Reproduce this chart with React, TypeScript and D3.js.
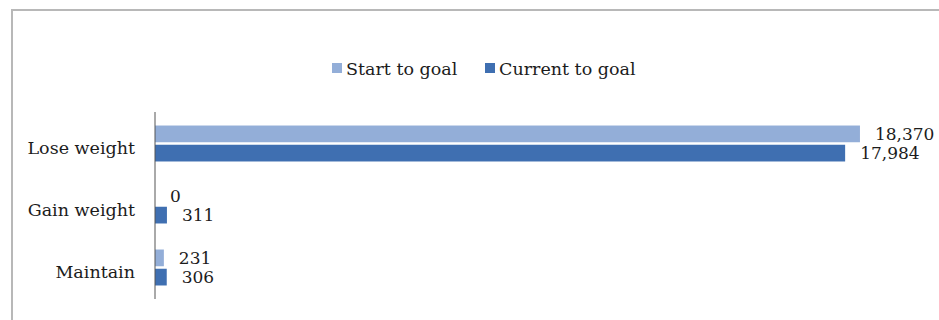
import React from "react";
import * as d3 from "d3";

const categories = ["Lose weight", "Gain weight", "Maintain"];
const seriesNames = ["Start to goal", "Current to goal"];
const startToGoal = [18370, 0, 231];
const currentToGoal = [17984, 311, 306];
const seriesColors = ["#93aed8", "#3f6fb1"];

const W = 939;
const H = 320;
const FONT = "'DejaVu Serif', serif";
const TEXT = "#1c1c1c";

export default function App() {
  const x = d3.scaleLinear().domain([0, 20000]).range([155, 922.5]);
  const y = d3
    .scaleBand<string>()
    .domain(categories)
    .range([112.5, 298.5])
    .paddingInner(0.42)
    .paddingOuter(0.21);
  const inner = d3
    .scaleBand<string>()
    .domain(seriesNames)
    .range([0, y.bandwidth()])
    .paddingInner(0.13);
  const series = [startToGoal, currentToGoal];
  const fmt = d3.format(",");

  return (
    <div style={{ position: "absolute", left: 0, top: 0 }}>
      <svg width={W} height={H} style={{ display: "block", background: "#fff" }}>
        <rect x={12} y={10} width={W + 20} height={H + 20} fill="#fff" stroke="#b8b8b8" strokeWidth={2} />
        {/* legend */}
        <g fontFamily={FONT} fontSize={17.5} fill={TEXT}>
          <rect x={332} y={63} width={10} height={10} fill={seriesColors[0]} />
          <text x={346} y={74.5}>{seriesNames[0]}</text>
          <rect x={485} y={63} width={10} height={10} fill={seriesColors[1]} />
          <text x={499} y={74.5}>{seriesNames[1]}</text>
        </g>
        {/* bars */}
        {categories.map((c, i) => (
          <g key={c}>
            {series.map((s, j) => {
              const by = (y(c) as number) + (inner(seriesNames[j]) as number);
              const bh = inner.bandwidth();
              return (
                <g key={j}>
                  <rect x={x(0)} y={by} width={x(s[i]) - x(0)} height={bh} fill={seriesColors[j]} />
                  <text
                    x={x(s[i]) + 15}
                    y={by + bh / 2}
                    dy="0.36em"
                    fontFamily={FONT}
                    fontSize={17}
                    fill={TEXT}
                  >
                    {fmt(s[i])}
                  </text>
                </g>
              );
            })}
            <text
              x={135}
              y={(y(c) as number) + y.bandwidth() / 2 + 10}
              textAnchor="end"
              fontFamily={FONT}
              fontSize={17.5}
              fill={TEXT}
            >
              {c}
            </text>
          </g>
        ))}
        {/* axis */}
        <line x1={x(0)} x2={x(0)} y1={112} y2={299} stroke="#555" strokeWidth={1} />
      </svg>
    </div>
  );
}
